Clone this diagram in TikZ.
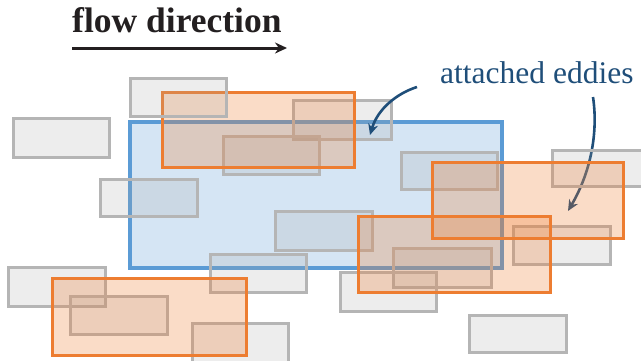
\documentclass[tikz,border=0pt]{standalone}
\usepackage{fontspec}
\setmainfont{Liberation Serif}
\usetikzlibrary{arrows.meta}
\definecolor{navy}{HTML}{1F4E79}
\definecolor{ink}{HTML}{231F20}
\definecolor{bluebox}{HTML}{5B9BD5}
\definecolor{orangebox}{HTML}{ED7D31}
\definecolor{grayline}{HTML}{B5B5B5}
\definecolor{grayfill}{HTML}{A5A5A5}
\tikzset{
  graybox/.style={draw=grayline, line width=3pt, fill=grayfill, fill opacity=0.2, draw opacity=1},
  orangebox/.style={draw=orangebox, line width=3pt, fill=orangebox, fill opacity=0.27, draw opacity=1},
  bluebox/.style={draw=bluebox, line width=3.5pt, fill=bluebox, fill opacity=0.26, draw opacity=1},
  pointer/.style={draw=navy, line width=2.6pt, -{Stealth[length=11pt,width=10pt]}},
  flowarrow/.style={draw=ink, line width=3pt, -{Stealth[length=12pt,width=11pt]}},
}
\begin{document}
\begin{tikzpicture}[x=1pt,y=-1pt]
\useasboundingbox (0,0) rectangle (641,360);
% title and flow arrow
\node[anchor=base west, inner sep=0, text=ink, font=\fontsize{35.5}{40}\selectfont\bfseries] (flow) at (72,32) {flow direction};
\coordinate (fa) at (72,48);
\coordinate (fb) at (287,48);
\draw[flowarrow] (fa) -- (fb);
% label
\node[anchor=base west, inner sep=0, text=navy, font=\fontsize{31.5}{36}\selectfont] (eddies) at (440,83) {attached eddies};
\coordinate (p1s) at (417,87);
\coordinate (p1e) at (370,135);
\coordinate (p2s) at (593,97);
\coordinate (p2e) at (568,211);
% blue region
\draw[bluebox] (130,122) rectangle (502,268);
% second pointer (below boxes)
\draw[pointer] (p2s) .. controls (598,130) and (592,170) .. (p2e);
% gray eddies
\draw[graybox] (13,118) rectangle (109,157);
\draw[graybox] (293,100) rectangle (391,139);
\draw[graybox] (223,136) rectangle (319,174);
\draw[graybox] (100,179) rectangle (197,216);
\draw[graybox] (401,152) rectangle (497,189);
\draw[graybox] (552,150) rectangle (650,186);
\draw[graybox] (275,211) rectangle (372,250);
\draw[graybox] (210,254) rectangle (306,292);
\draw[graybox] (8,267) rectangle (105,306);
\draw[graybox] (70,296) rectangle (167,334);
\draw[graybox] (192,323) rectangle (288,362);
\draw[graybox] (393,248) rectangle (491,287);
\draw[graybox] (340,272) rectangle (436,311);
\draw[graybox] (513,226) rectangle (610,264);
\draw[graybox] (469,315) rectangle (566,352);
% attached (orange) eddies
\draw[orangebox] (162,92) rectangle (354,167);
\draw[orangebox] (432,162) rectangle (623,238);
\draw[orangebox] (358,216) rectangle (550,292);
\draw[orangebox] (52,278) rectangle (246,355);
% gray eddy on top
\draw[graybox] (130,78) rectangle (226,116);
% first pointer
\draw[pointer] (p1s) .. controls (398,93) and (378,108) .. (p1e);
\end{tikzpicture}
\end{document}
